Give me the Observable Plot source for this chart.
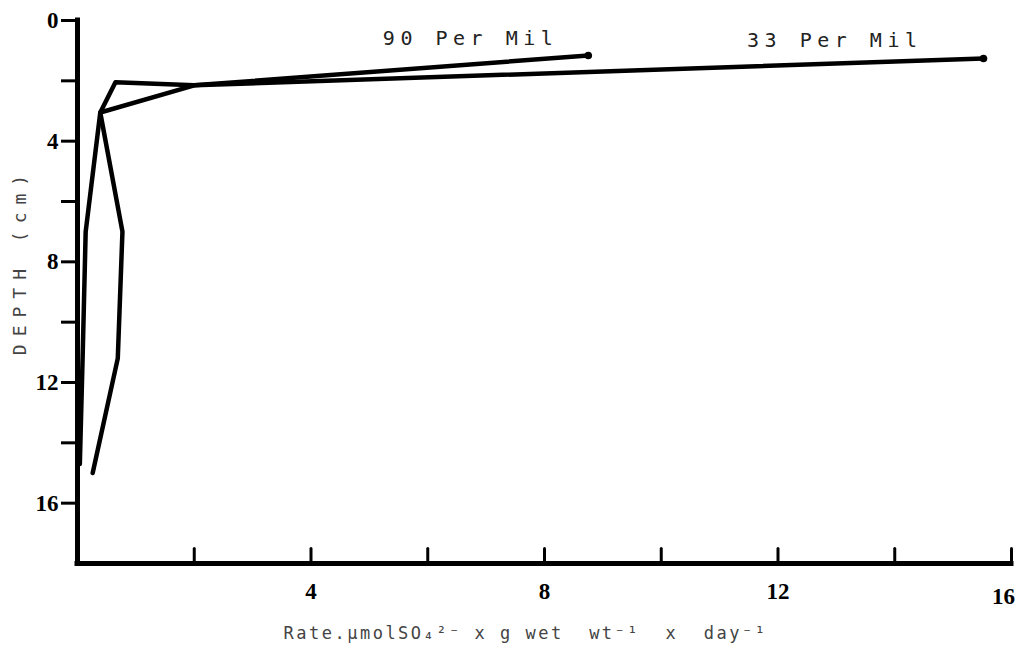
<!DOCTYPE html>
<html>
<head>
<meta charset="utf-8">
<script src="https://cdn.jsdelivr.net/npm/d3@7"></script>
<script src="https://cdn.jsdelivr.net/npm/@observablehq/plot@0.6"></script>
<style>
  html, body { margin: 0; padding: 0; background: #fff; }
  #chart svg { display: block; }
</style>
</head>
<body>
<div id="chart"></div>
<script>
// ---- Data ----
const seriesNames = ["90 Per Mil", "33 Per Mil"];

// 90 Per Mil profile (rate, depth in cm), from the surface down
const rate90  = [8.75, 2.0, 0.65, 0.39, 0.77, 0.69, 0.26];
const depth90 = [1.16, 2.15, 2.05, 3.05, 7.0, 11.2, 15.0];

// 33 Per Mil profile
const rate33  = [15.52, 2.0, 0.39, 0.14, 0.09, 0.04];
const depth33 = [1.26, 2.15, 3.05, 7.0, 11.0, 14.7];

const yTicks = [0, 2, 4, 6, 8, 10, 12, 14, 16];
const yTickLabels = [0, 4, 8, 12, 16];
const xTicks = [2, 4, 6, 8, 10, 12, 14, 16];
const xTickLabels = [4, 8, 12, 16];

const xLabel = "Rate.\u03bcmolSO\u2084\u00b2\u207b x g wet\u00a0 wt\u207b\u00b9\u00a0 x\u00a0 day\u207b\u00b9";
const yLabel = "DEPTH (cm)";

// ---- Build table ----
const rows = [
  ...rate90.map((r, i) => ({series: seriesNames[0], rate: r, depth: depth90[i]})),
  ...rate33.map((r, i) => ({series: seriesNames[1], rate: r, depth: depth33[i]}))
];

const tickShape = {draw(ctx, l) { ctx.moveTo(0, 0); ctx.lineTo(0, -l); }};
const monoFont = "'DejaVu Sans Mono', monospace";
const digitFont = "'Liberation Serif', serif";
const lastX = xTickLabels[xTickLabels.length - 1];

const plot = Plot.plot({
  width: 1019,
  height: 656,
  marginLeft: 77,
  marginRight: 8,
  marginTop: 20,
  marginBottom: 93,
  x: {domain: [0, 16], label: null},
  y: {domain: [0, 18], reverse: true, label: null},
  style: {background: "#fff", color: "#000", fontFamily: monoFont},
  marks: [
    // axis lines
    Plot.ruleX([0], {stroke: "#000", strokeWidth: 5, strokeLinecap: "square"}),
    Plot.ruleY([18], {stroke: "#000", strokeWidth: 5, strokeLinecap: "square"}),
    // y axis ticks + labels
    Plot.axisY({
      ticks: yTicks, tickSize: 16, tickPadding: 3,
      tickFormat: d => yTickLabels.includes(d) ? String(d) : "",
      stroke: "#000", strokeWidth: 3, fill: "#000", label: null
    }),
    // x axis ticks (pointing up, inside the frame)
    Plot.vector(xTicks, {x: d => d, frameAnchor: "bottom", length: 15, anchor: "start",
      shape: tickShape, stroke: "#000", strokeWidth: 3}),
    // x axis labels
    Plot.axisX({
      ticks: xTickLabels.filter(d => d !== lastX), tickSize: 0, tickPadding: 19,
      fill: "#000", label: null
    }),
    Plot.axisX({
      ticks: [lastX], tickSize: 0, tickPadding: 24, dx: -8,
      fill: "#000", label: null
    }),
    // profiles
    Plot.line(rows, {x: "rate", y: "depth", z: "series", stroke: "#000",
      strokeWidth: 4.5, strokeLinejoin: "round", strokeLinecap: "round"}),
    Plot.dot(rows, Plot.selectFirst({x: "rate", y: "depth", z: "series", r: 3.8, fill: "#000"})),
    // series labels
    Plot.text(rows.filter(d => d.series === seriesNames[0]), Plot.selectFirst({
      x: "rate", y: "depth", text: "series", textAnchor: "end", lineAnchor: "middle",
      dx: -30, dy: -17, fontSize: 20, fill: "#222"
    })),
    Plot.text(rows.filter(d => d.series === seriesNames[1]), Plot.selectFirst({
      x: "rate", y: "depth", text: "series", textAnchor: "end", lineAnchor: "middle",
      dx: -61, dy: -18, fontSize: 20, fill: "#222"
    })),
    // axis titles
    Plot.text([xLabel], {frameAnchor: "bottom-left", text: d => d, textAnchor: "start",
      lineAnchor: "middle", dx: 206, dy: 70, fontSize: 17, fill: "#444"}),
    Plot.text([yLabel], {frameAnchor: "left", text: d => d, rotate: -90, textAnchor: "middle",
      lineAnchor: "middle", dx: -57, dy: -31, fontSize: 18, fill: "#444"})
  ]
});

// tick label font: bold serif digits
d3.select(plot).selectAll('g[aria-label$="tick label"]')
  .attr("font-family", digitFont)
  .attr("font-weight", "bold")
  .selectAll("text")
  .style("font-size", "23px");

// letter-spacing for the typewriter-like texts
d3.select(plot).selectAll("text").each(function() {
  const t = this.textContent;
  if (seriesNames.includes(t)) this.style.letterSpacing = "5.5px";
  else if (t === xLabel) this.style.letterSpacing = "2.5px";
  else if (t === yLabel) this.style.letterSpacing = "8px";
});

document.getElementById("chart").appendChild(plot);
</script>
</body>
</html>
